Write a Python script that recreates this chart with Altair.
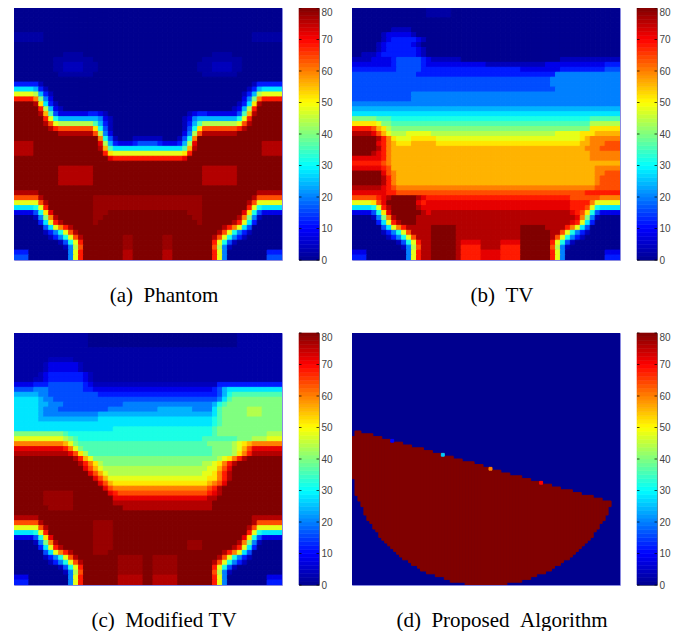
import altair as alt
import pandas as pd

# Heat-map values, one string per image row.  Each token is a level code followed by a repeat count;
# the last token of a row fills the remaining cells.
LEVELS = "0123456789abcdefghijk"          # code index x 4 = value
EXTRA_LEVELS = {"x": 2, "m": 78}          # faint lobes between two levels

# left half only: the phantom is mirror-symmetric
PHANTOM_HALF = [
"0","0","0","0","0","x6 0","x6 0","0","0","010 x4 0","08 x8 0","08 x2 14 x3 0","08 x2 14 x3 0","09 x7 0","0",
"35 1 0","74 6 3 1 0","c4 b 6 3 1 0","h4 f a 5 2 0","k4 j d 7 3 1 0","k5 h b 6 2 1 0",
"k5 j e 9 4 26 32 2 1 0","k6 h c 8 68 5 2 1 0","k6 j g c b7 9 6 3 1 0","k7 j h g7 d 8 4 1 0","k9 j7 g b 5 2 0",
"k17 f 8 4 1 03 13","j4 k13 i b 6 3 23 3 4","j4 k13 j e 9 7","j4 k14 h d c","k19 i h","k",
"k9 j7 k","k9 j7 k","k9 j7 k","k9 j7 k","k","j5 k","g5 j k10 m","c5 g j k9 m","74 8 c h k9 m",
"24 4 8 d i k8 m3 k","04 1 5 a f j k7 m2 k","05 3 7 c h j k6 m k","06 4 7 c f h j k","06 1 3 5 8 c g j k",
"07 1 3 5 8 c g j k8 m2 k","09 1 4 8 c h k8 m2 k","010 1 5 b g k8 m2 k","33 08 5 c h k8 j2 k","43 08 5 c h k8 j2 k",
]
TV = [
"015 x5 0","015 x5 0","0","0","08 14 0","06 1 25 1 0","06 1 2 35 2 1 0","05 1 2 35 2 1 0","05 1 2 3 34 3 2 1 0",
"02 13 2 3 35 3 2 1 0","14 24 3 45 3 2 16 020 1","28 3 45 3 212 112 212 3","39 45 320 28 39 4","413 328 5",
"414 426 5","414 426 5","441 5","412 5","412 5","5","6","7","a5 93 840 9","d5 c a2 940 b","h4 g e d b a40 d",
"j4 i g e c b3 c5 b25 c5 d3 e","k5 j h f d c3 d5 c29 d e f","k5 i h f e d3 e5 d29 e2 f3 g","k5 j h f e39 f3 g",
"k4 j i h f e40 f","i6 h f e40 f","h6 g f e","i6 h g e41 f","k6 i g f e40 f2 g",
"k6 j h f e40 f g","k6 j h f e40 f g","j6 i h g f40 g","i7 h2 g38 h","g5 h i j k5 j i h29 g6 f",
"c4 d g i k6 i h i29 h4 f c","74 8 c h j k5 j i30 h3 g c 8 7","24 4 8 d i k6 j i j28 i h g d 8 4 2",
"04 1 5 a f j k4 j32 i f a 5 1 0","05 3 7 c h j k3 j31 i h c 7 3 0","06 4 7 c f h j j4 k5 j13 k5 j4 h f c 7 4 0",
"06 1 3 5 8 c g j j3 k5 j13 k6 j2 g c 8 5 3 1 0","07 1 3 5 8 c g j j2 k5 j13 k6 j g c 8 5 3 1 0",
"09 1 4 8 c h j2 k5 j i4 j4 i4 k6 h c 8 4 1 0","010 1 5 b g j2 k5 j h4 j4 h4 k6 g b 5 1 0",
"23 08 5 c h j2 k5 j h4 i4 h4 k6 h c 5 08 2","33 08 5 c h j2 k5 j h4 i4 h4 k6 h c 5 08 3",
]
MODIFIED_TV = [
"x15 030 x","x15 030 x","x15 030 x","x","x","x7 15 x","x6 1 26 1 x","x6 1 26 1 x","x5 1 2 37 2 1 x","x4 12 2 37 2 1 x",
"24 33 47 3 2 125 3","44 53 47 32 224 3 4 6 7","65 52 410 324 4 6 8 9","75 6 52 433 5 7 9 a",
"75 62 53 412 518 6 8 9 a","75 6 53 410 510 67 54 7 9 a5 b3 a","75 6 511 623 7 9 a5 b3 a",
"75 612 723 8 9 a","740 8 9 a","720 820 9 a","a10 9 829 9 a10 b","c10 b a 9 825 97 a3 b3 c",
"f10 e c a 9 925 a5 b c d e f","i10 h f c a 926 a4 b c e g i","j11 i g d b 925 a4 b d f h j",
"k12 j h e c a25 b c d f h j k","k13 j h f d b a20 b2 c d f h j k","k14 i g e c b20 b c2 e g i k",
"k15 i g e c b19 c2 d f h j k","k16 i g e c20 d2 f h j k","k17 i g e d19 e f g i k","k18 i g f19 g h j k",
"k6 m6 k7 i h g18 h i j k","k6 m6 k8 i19 j2 k","k6 m6 k8 j20 k","k7 m5 k10 j18 k","k","j5 k43 j",
"g5 j k10 m4 k28 j g","c5 g j k9 m4 k27 j g c","74 8 c h k9 m4 k27 h c 8 7","24 4 8 d i k8 m4 k26 i d 8 4 2",
"04 1 5 a f j k7 m4 k15 m3 k7 j f a 5 1 0","05 3 7 c h j k6 m4 k15 m3 k6 j h c 7 3 0",
"06 4 7 c f h j k4 m3 k23 j h f c 7 4 0","06 1 3 5 8 c g j k8 m5 k2 m5 k8 j g c 8 5 3 1 0",
"07 1 3 5 8 c g j k7 m5 k2 m5 k7 j g c 8 5 3 1 0","09 1 4 8 c h k7 m5 k2 m5 k7 h c 8 4 1 0",
"010 1 5 b g k7 m5 k2 m5 k7 g b 5 1 0","23 08 5 c h k7 j5 k2 j5 k7 h c 5 08 2","33 08 5 c h k7 j5 k2 j5 k7 h c 5 08 3",
]

# Proposed Algorithm: 90 x 90 grid; for each column, first and last+1 row of the filled region
PROPOSED_TOP = [37,35,35,36,36,36,36,37,37,37,38,38,38,39,39,39,39,40,40,40,41,41,41,41,42,42,42,43,43,43,43,44,44,44,
45,45,45,46,46,46,46,47,47,47,48,48,48,49,49,49,50,50,50,51,51,51,51,52,52,52,53,53,53,53,54,54,54,55,55,55,
56,56,56,56,57,57,57,58,58,58,58,59,59,59,60,60,60]
PROPOSED_BOTTOM = [52,58,60,62,65,67,68,70,71,73,74,75,76,77,78,79,80,81,81,82,83,83,84,85,85,86,86,86,87,87,87,88,88,
89,89,89,89,89,90,90,90,90,90,90,90,90,90,90,90,90,90,90,89,89,89,89,89,88,88,88,87,87,86,86,86,85,85,84,83,83,82,81,81,
80,79,78,77,76,75,74,73,71,70,68,67,65,62]
PROPOSED_SPOTS = [(13, 38, 10), (30, 43, 26), (46, 48, 60), (63, 53, 70)]

CAPTIONS = ["(a)\u00a0\u00a0Phantom", "(b)\u00a0\u00a0TV", "(c)\u00a0\u00a0Modified\u00a0TV", "(d)\u00a0\u00a0Proposed\u00a0\u00a0Algorithm"]
CBAR_TICKS = [0, 10, 20, 30, 40, 50, 60, 70, 80]

JET = alt.Scale(domain=[0, 10, 30, 50, 70, 80],
                range=["#00008f", "#0000ff", "#00ffff", "#ffff00", "#ff0000", "#800000"],
                interpolate="rgb", clamp=True)
PW, PH = 268, 252
NC, NR = 54, 51


def decode(rows, width):
    out = []
    for row in rows:
        cells = []
        toks = row.split()
        for tok in toks:
            cells += [tok[0]] * int(tok[1:] or 1)
        cells += [toks[-1][0]] * (width - len(cells))
        out.append(cells[:width])
    return out


def level(ch):
    return EXTRA_LEVELS[ch] if ch in EXTRA_LEVELS else LEVELS.index(ch) * 4


def frame(grid):
    recs = []
    for r, row in enumerate(grid):
        for c, ch in enumerate(row):
            recs.append({"c": c, "c2": c + 1, "r": r, "r2": r + 1, "v": level(ch)})
    return pd.DataFrame(recs)


def heat(df, caption, nc, nr):
    return alt.Chart(df).mark_rect(strokeWidth=1, clip=True).encode(
        x=alt.X("c:Q", scale=alt.Scale(domain=[0, nc], nice=False, zero=False),
                axis=alt.Axis(labels=False, ticks=False, domain=False, grid=False, title=caption,
                              titleFont="Liberation Serif", titleFontSize=21, titleFontWeight="normal",
                              titleColor="#000000", titleX=PW / 2 + 15.5, titleY=41, titleAlign="center",
                              titleBaseline="alphabetic")),
        x2="c2:Q",
        y=alt.Y("r:Q", scale=alt.Scale(domain=[0, nr], nice=False, zero=False, reverse=True), axis=None),
        y2="r2:Q",
        color=alt.Color("v:Q", scale=JET, legend=None),
        stroke=alt.Stroke("v:Q", scale=JET, legend=None),
    ).properties(width=PW, height=PH, view=alt.ViewBackground(stroke="#8a8ae0", strokeWidth=1))


def colorbar():
    df = pd.DataFrame({"lo": [i * 80 / 64 for i in range(64)], "hi": [(i + 1) * 80 / 64 for i in range(64)],
                       "mid": [(i + .5) * 80 / 64 for i in range(64)]})
    axis = alt.Axis(orient="right", values=CBAR_TICKS, grid=False, domain=False, ticks=False, title=None,
                    labelFont="Liberation Sans", labelFontSize=10, labelColor="#444444", labelPadding=2,
                    labelBound=False, labelFlush=False, labelOverlap=False,
                    labelBaseline=alt.expr("datum.value == 80 ? 'top' : 'middle'"),
                    labelOffset=alt.expr("datum.value == 80 ? -1 : 0"))
    yscale = alt.Scale(domain=[0, 80], nice=False)
    ramp = alt.Chart(df).mark_rect(strokeWidth=0.6).encode(
        x=alt.value(0), x2=alt.value(20),
        y=alt.Y("lo:Q", scale=yscale, axis=axis),
        y2="hi:Q",
        color=alt.Color("mid:Q", scale=JET, legend=None),
        stroke=alt.Stroke("mid:Q", scale=JET, legend=None),
    )
    t = pd.DataFrame({"t": CBAR_TICKS})
    left = alt.Chart(t).mark_rule(color="#000000", strokeWidth=0.7).encode(
        x=alt.value(0), x2=alt.value(2.5), y=alt.Y("t:Q", scale=yscale, axis=axis))
    right = alt.Chart(t).mark_rule(color="#000000", strokeWidth=0.7).encode(
        x=alt.value(17.5), x2=alt.value(20), y=alt.Y("t:Q", scale=yscale, axis=axis))
    return alt.layer(ramp, left, right).properties(width=20, height=PH, view=alt.ViewBackground(stroke="#777777", strokeWidth=1))


a_grid = [row + row[::-1] for row in decode(PHANTOM_HALF, NC // 2)]
b_grid = decode(TV, NC)
c_grid = decode(MODIFIED_TV, NC)

recs = [{"c": 0, "c2": 90, "r": 0, "r2": 90, "v": 0}]
for col, (top, bot) in enumerate(zip(PROPOSED_TOP, PROPOSED_BOTTOM)):
    recs.append({"c": col, "c2": col + 1, "r": top, "r2": bot, "v": 80})
for col, row, val in PROPOSED_SPOTS:
    recs.append({"c": col, "c2": col + 1, "r": row, "r2": row + 1, "v": val})
d_df = pd.DataFrame(recs)

panel_a = heat(frame(a_grid), CAPTIONS[0], NC, NR)
panel_b = heat(frame(b_grid), CAPTIONS[1], NC, NR)
panel_c = heat(frame(c_grid), CAPTIONS[2], NC, NR)
panel_d = heat(d_df, CAPTIONS[3], 90, 90)


def pair(p):
    return alt.hconcat(p, colorbar(), spacing=15)


row1 = alt.hconcat(pair(panel_a), pair(panel_b), spacing=18)
row2 = alt.hconcat(pair(panel_c), pair(panel_d), spacing=18)
chart = alt.vconcat(row1, row2, spacing=25).properties(
    padding={"left": 5, "top": -2, "right": 0, "bottom": 0}, background="#ffffff"
).resolve_scale(color="independent", stroke="independent")

chart.save("out.html", embed_options={"renderer": "svg", "actions": False})
